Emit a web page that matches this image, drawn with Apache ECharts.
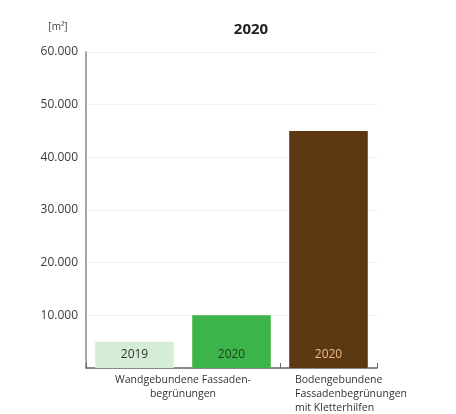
<!DOCTYPE html>
<html><head><meta charset="utf-8">
<script src="https://cdn.jsdelivr.net/npm/echarts@6/dist/echarts.min.js"></script>
<style>html,body{margin:0;padding:0;background:#fff}#c{width:456px;height:414px}</style>
</head><body><div id="c"></div>
<script>
var categories = ['Wandgebunden 2019', 'Wandgebunden 2020', 'Bodengebunden 2020'];
var barLabels = ['2019', '2020', '2020'];
var values = [5000, 10000, 45000];
var yTicks = [0, 10000, 20000, 30000, 40000, 50000, 60000];
var groupLabels = ['Wandgebundene Fassaden-\nbegrünungen', 'Bodengebundene\nFassadenbegrünungen\nmit Kletterhilfen'];
var unitLabel = '[m²]';

var colors = ['#d5ecd6', '#3cb44a', '#5b3811'];
var labelColors = ['#333333', '#1d3f1d', '#f0b98a'];
var font = 'Open Sans, Noto Sans, sans-serif';

var chart = echarts.init(document.getElementById('c'), null, {renderer: 'canvas'});
chart.setOption({
  animation: false,
  backgroundColor: '#fff',
  title: {text: '2020', left: 246, top: 17, textAlign: 'center',
    textStyle: {fontFamily: font, fontSize: 15, fontWeight: 'bold', color: '#222'}},
  grid: {left: 86, right: 79, top: 52, bottom: 46},
  xAxis: {type: 'category', data: categories,
    axisLine: {lineStyle: {color: '#666', width: 1.5}},
    axisTick: {show: true, length: 5, inside: true, lineStyle: {color: '#666'}},
    axisLabel: {show: false}},
  yAxis: {type: 'value', min: yTicks[0], max: yTicks[yTicks.length - 1], interval: yTicks[1] - yTicks[0],
    axisLine: {show: true, lineStyle: {color: '#888', width: 1.5}},
    axisTick: {show: false},
    splitLine: {lineStyle: {color: '#f0f0f0'}},
    axisLabel: {fontFamily: font, fontSize: 12, color: '#3a3a3a', margin: 8,
      formatter: function (v) { return v === 0 ? '' : (v / 1000).toFixed(3); }}},
  series: [{
    type: 'bar', barWidth: '81%',
    data: values.map(function (v, i) {
      return {value: v, itemStyle: {color: colors[i]},
        label: {show: true, position: 'insideBottom', distance: 7, formatter: barLabels[i],
          color: labelColors[i], fontFamily: font, fontSize: 12}};
    })
  }],
  graphic: [
    {type: 'text', x: 58, y: 27, style: {text: unitLabel, align: 'center', verticalAlign: 'middle',
      font: '10px ' + font, fill: '#444'}},
    {type: 'text', x: 183, y: 373, style: {text: groupLabels[0], align: 'center', verticalAlign: 'top',
      font: '10.5px ' + font, fill: '#333', lineHeight: 14}},
    {type: 'text', x: 295, y: 373, style: {text: groupLabels[1], align: 'left', verticalAlign: 'top',
      font: '10.5px ' + font, fill: '#333', lineHeight: 14}}
  ]
});
</script></body></html>
